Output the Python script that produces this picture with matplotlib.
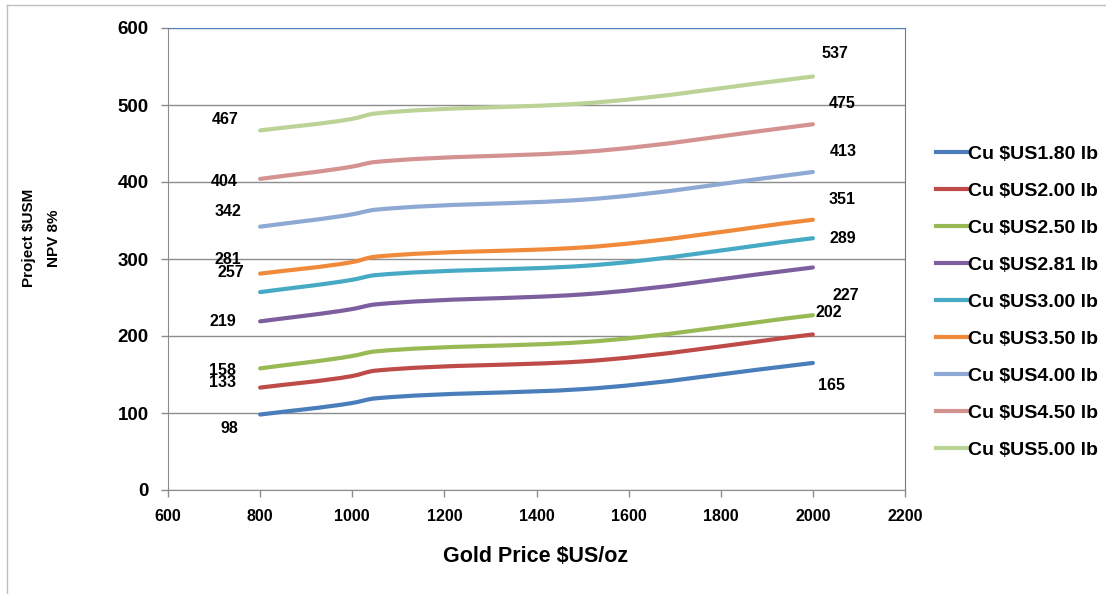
import numpy as np
import matplotlib
matplotlib.use('Agg')
import matplotlib.pyplot as plt
from matplotlib.path import Path
from matplotlib.patches import PathPatch
from matplotlib.lines import Line2D

plt.rcParams['font.family'] = ['Liberation Sans', 'DejaVu Sans']
plt.rcParams['font.weight'] = 'bold'

# gold price $US/oz
gold = [800, 1000, 1050, 1500, 2000]

# project NPV 8% ($USM) for each copper price
cu_180 = [98, 113, 119, 131, 165]
cu_200 = [133, 148, 155, 167, 202]
cu_250 = [158, 174, 180, 192, 227]
cu_281 = [219, 235, 241, 254, 289]
cu_300 = [257, 273, 279, 291, 327]
cu_350 = [281, 296, 303, 315, 351]
cu_400 = [342, 358, 364, 377, 413]
cu_450 = [404, 420, 426, 439, 475]
cu_500 = [467, 482, 489, 502, 537]

series = [cu_180, cu_200, cu_250, cu_281, cu_300, cu_350, cu_400, cu_450, cu_500]
names = ['Cu $US1.80 lb', 'Cu $US2.00 lb', 'Cu $US2.50 lb', 'Cu $US2.81 lb',
         'Cu $US3.00 lb', 'Cu $US3.50 lb', 'Cu $US4.00 lb', 'Cu $US4.50 lb',
         'Cu $US5.00 lb']
colors = ['#4A7EBB', '#BE4B48', '#98B954', '#7D5FA0', '#46AAC5',
          '#F08A3A', '#8EA9D4', '#D49290', '#BBD396']

# value labels written next to the curves
left_text = ['98', '133', '158', '219', '257', '281', '342', '404', '467']
left_x = [733, 719, 719, 719, 737, 729, 730, 722, 725]
left_y = [80, 140, 155, 219, 282, 299, 362, 400, 481]
right_text = ['165', '202', '227', '289', '351', '413', '475', '537']
right_x = [2041, 2034, 2071, 2066, 2063, 2066, 2063, 2048]
right_y = [136, 231, 253, 327, 377, 439, 502, 567]


def smooth_path(x, y):
    # cubic bezier through the points, monotone tangents (like excel smoothing)
    x = np.asarray(x, float)
    y = np.asarray(y, float)
    h = np.diff(x)
    d = np.diff(y) / h
    m = np.zeros_like(y)
    m[0], m[-1] = d[0], d[-1]
    for k in range(1, len(x) - 1):
        if d[k - 1] * d[k] > 0:
            w1 = 2 * h[k] + h[k - 1]
            w2 = h[k] + 2 * h[k - 1]
            m[k] = (w1 + w2) / (w1 / d[k - 1] + w2 / d[k])
    verts = [(x[0], y[0])]
    codes = [Path.MOVETO]
    for k in range(len(x) - 1):
        verts += [(x[k] + h[k] / 3, y[k] + m[k] * h[k] / 3),
                  (x[k + 1] - h[k] / 3, y[k + 1] - m[k + 1] * h[k] / 3),
                  (x[k + 1], y[k + 1])]
        codes += [Path.CURVE4] * 3
    return Path(verts, codes)


fig = plt.figure(figsize=(11.06, 5.94), dpi=100)
ax = fig.add_axes([168 / 1106, 1 - 490 / 594, (905 - 168) / 1106, (490 - 28) / 594])

for vals, c in zip(series, colors):
    ax.add_patch(PathPatch(smooth_path(gold, vals), fill=False, edgecolor=c,
                           lw=3, capstyle='round', joinstyle='round', zorder=3))

for t, x, y in zip(left_text, left_x, left_y):
    ax.text(x, y, t, ha='center', va='center', fontsize=11.5, fontweight='bold', zorder=4)
for t, x, y in zip(right_text, right_x, right_y):
    ax.text(x, y, t, ha='center', va='center', fontsize=11.5, fontweight='bold', zorder=4)

ax.set_xlim(600, 2200)
ax.set_ylim(0, 600)
ax.set_xticks(np.arange(600, 2201, 200))
ax.set_yticks(np.arange(0, 601, 100))
ax.yaxis.grid(True, color='#8C8C8C', lw=1)
ax.set_axisbelow(True)
for s in ['left', 'bottom']:
    ax.spines[s].set_color('#8C8C8C')
for s in ['top', 'right']:
    ax.spines[s].set_color('#4F81BD')
ax.tick_params(axis='both', direction='out', length=5, color='#8C8C8C', width=1)
ax.tick_params(axis='y', labelsize=13.5, pad=9)
ax.tick_params(axis='x', labelsize=11.5, pad=9)
for lab in ax.get_xticklabels() + ax.get_yticklabels():
    lab.set_fontweight('bold')

fig.text(536 / 1106, 1 - 557 / 594, 'Gold Price $US/oz', ha='center', va='center',
         fontsize=15.5, fontweight='bold')
fig.text(42 / 1106, 1 - 238 / 594, 'Project $USM\nNPV 8%', ha='center', va='center',
         rotation=90, fontsize=11, fontweight='bold', multialignment='center',
         linespacing=2.0)

handles = [Line2D([], [], color=c, lw=3) for c in colors]
fig.legend(handles, names, loc='center left', bbox_to_anchor=(926 / 1106, 1 - 302 / 594),
           frameon=False, handlelength=1.6, handletextpad=0.05,
           labelspacing=1.0, borderpad=0, prop={'weight': 'bold', 'size': 14})

# outer chart border
fig.add_artist(Line2D([7 / 1106, 7 / 1106], [0, 1 - 5 / 594], color='#BFBFBF', lw=1))
fig.add_artist(Line2D([7 / 1106, 1], [1 - 5 / 594, 1 - 5 / 594], color='#BFBFBF', lw=1))

fig.savefig('out.png', dpi=100)
